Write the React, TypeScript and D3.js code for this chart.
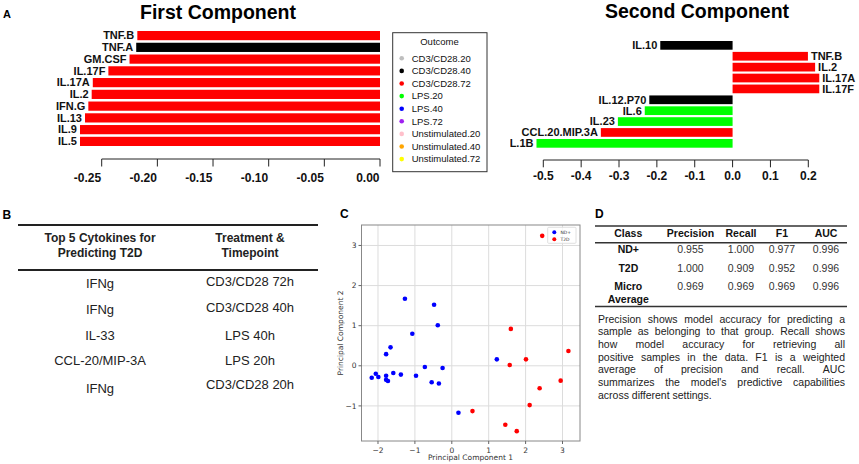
import React, { useMemo } from "react";
import * as d3 from "d3";

const FONT = "'Liberation Sans', Arial, Helvetica, sans-serif";
const MPL = "'DejaVu Sans', sans-serif";

// ---------- Panel A data ----------
const outcomes = ["CD3/CD28.20", "CD3/CD28.40", "CD3/CD28.72", "LPS.20", "LPS.40", "LPS.72", "Unstimulated.20", "Unstimulated.40", "Unstimulated.72"];
const outcomeColors = ["#bebebe", "#000000", "#ff0000", "#00ff00", "#0000ff", "#a020f0", "#ffc0cb", "#ffa500", "#ffff00"];

const comp1Names = ["TNF.B", "TNF.A", "GM.CSF", "IL.17F", "IL.17A", "IL.2", "IFN.G", "IL.13", "IL.9", "IL.5"];
const comp1Values = [-0.218, -0.219, -0.225, -0.244, -0.258, -0.259, -0.262, -0.265, -0.2695, -0.2695];
const comp1Outcome = ["CD3/CD28.72", "CD3/CD28.40", "CD3/CD28.72", "CD3/CD28.72", "CD3/CD28.72", "CD3/CD28.72", "CD3/CD28.72", "CD3/CD28.72", "CD3/CD28.72", "CD3/CD28.72"];
const comp1Ticks = [-0.25, -0.2, -0.15, -0.1, -0.05, 0];

const comp2Names = ["IL.10", "TNF.B", "IL.2", "IL.17A", "IL.17F", "IL.12.P70", "IL.6", "IL.23", "CCL.20.MIP.3A", "IL.1B"];
const comp2Values = [-0.191, 0.199, 0.218, 0.229, 0.229, -0.22, -0.232, -0.303, -0.348, -0.518];
const comp2Outcome = ["CD3/CD28.40", "CD3/CD28.72", "CD3/CD28.72", "CD3/CD28.72", "CD3/CD28.72", "CD3/CD28.40", "LPS.20", "LPS.20", "CD3/CD28.72", "LPS.20"];
const comp2Ticks = [-0.5, -0.4, -0.3, -0.2, -0.1, 0, 0.1, 0.2];

// ---------- Panel B data ----------
const tableBHeader1 = ["Top 5 Cytokines for", "Predicting T2D"];
const tableBHeader2 = ["Treatment &", "Timepoint"];
const tableBCytokines = ["IFNg", "IFNg", "IL-33", "CCL-20/MIP-3A", "IFNg"];
const tableBTreatments = ["CD3/CD28 72h", "CD3/CD28 40h", "LPS 40h", "LPS 20h", "CD3/CD28 20h"];

// ---------- Panel C data ----------
const ndX = [-1.27, -0.48, -0.38, -1.07, -1.66, -1.78, -0.73, -0.25, 1.22, -2.17, -2.06, -1.99, -1.78, -1.78, -1.73, -1.585, -1.38, -0.97, -0.545, -0.35, 0.18];
const ndY = [1.67, 1.52, 1.01, 0.80, 0.46, 0.29, -0.03, -0.055, 0.16, -0.30, -0.20, -0.28, -0.25, -0.35, -0.38, -0.18, -0.22, -0.25, -0.41, -0.44, -1.17];
const t2dX = [2.45, 1.60, 3.16, 2.01, 1.57, 2.95, 2.38, 2.11, 0.56, 1.45, 1.76];
const t2dY = [3.24, 0.92, 0.37, 0.16, 0.02, -0.37, -0.56, -0.98, -1.13, -1.47, -1.63];
const pcXTicks = [-2, -1, 0, 1, 2, 3];
const pcYTicks = [-1, 0, 1, 2, 3];

// ---------- Panel D data ----------
const metricHeaders = ["Class", "Precision", "Recall", "F1", "AUC"];
const metricClasses = [["ND+"], ["T2D"], ["Micro", "Average"]];
const precision = ["0.955", "1.000", "0.969"];
const recall = ["1.000", "0.909", "0.969"];
const f1 = ["0.977", "0.952", "0.969"];
const auc = ["0.996", "0.996", "0.996"];
const captionLines = [
  "Precision shows model accuracy for predicting a",
  "sample as belonging to that group. Recall shows",
  "how model accuracy for retrieving all",
  "positive samples in the data. F1 is a weighted",
  "average of precision and recall. AUC",
  "summarizes the model's predictive capabilities",
  "across different settings.",
];

let _canvas: HTMLCanvasElement | null = null;
function measure(text: string, font: string) {
  if (!_canvas) _canvas = document.createElement("canvas");
  const ctx = _canvas.getContext("2d")!;
  ctx.font = font;
  return ctx.measureText(text).width;
}

const colorOf = (o: string) => outcomeColors[outcomes.indexOf(o)];
const fmt2 = (v: number) => v.toFixed(2);
const fmt1 = (v: number) => v.toFixed(1);

export default function App() {
  // Component 1
  const x1 = d3.scaleLinear().domain([-0.25, 0]).range([101.7, 380]);
  const y1 = d3.scaleBand<string>().domain(comp1Names).range([31, 146]).paddingInner(0.217).paddingOuter(0);
  // Component 2
  const x2 = d3.scaleLinear().domain([-0.5, 0.2]).range([543.3, 808.3]);
  const y2 = d3.scaleBand<string>().domain(comp2Names).range([41, 147.7]).paddingInner(0.2).paddingOuter(0);
  // PCA
  const xs = d3.scaleLinear().domain([-2.447, 3.474]).range([361.5, 580]);
  const ys = d3.scaleLinear().domain([-1.875, 3.51]).range([441, 225]);

  const capFont = `10.5px ${FONT}`;
  const capLeft = 598;
  const capRight = 845;
  const capLayout = useMemo(() => {
    return captionLines.map((line, i) => {
      const words = line.split(" ");
      const widths = words.map((w) => measure(w, capFont));
      const isLast = i === captionLines.length - 1;
      const total = widths.reduce((a, b) => a + b, 0);
      const gap = isLast || words.length < 2 ? measure(" ", capFont) : (capRight - capLeft - total) / (words.length - 1);
      let x = capLeft;
      return words.map((w, k) => {
        const pos = x;
        x += widths[k] + gap;
        return { w, x: pos };
      });
    });
  }, []);

  const colX = [628.3, 690.5, 741, 782, 826];
  const rowYD = [253, 271.5, 289.8];

  return (
    <svg width={859} height={464} style={{ position: "absolute", left: 0, top: 0, background: "#fff" }} fontFamily={FONT}>
      <defs>
        <clipPath id="clip2">
          <rect x={510} y={0} width={349} height={200} />
        </clipPath>
      </defs>
      <rect x={0} y={0} width={859} height={464} fill="#fff" />

      {/* ---------- Panel A ---------- */}
      <text x={3} y={17.5} fontSize={11} fontWeight="bold">A</text>
      <text x={218} y={18.5} fontSize={19.5} fontWeight="bold" textAnchor="middle">First Component</text>
      {comp1Names.map((n, i) => {
        const v = comp1Values[i];
        const y = y1(n)!;
        return (
          <g key={n}>
            <rect x={x1(v)} y={y} width={x1(0) - x1(v)} height={y1.bandwidth()} fill={colorOf(comp1Outcome[i])} />
            <text x={x1(v) - 3} y={y + y1.bandwidth() / 2} dy="0.35em" textAnchor="end" fontSize={11} fontWeight="bold" fill="#111">{n}</text>
          </g>
        );
      })}
      <line x1={x1(-0.25)} x2={x1(0)} y1={159} y2={159} stroke="#222" strokeWidth={1} />
      {comp1Ticks.map((t) => (
        <g key={t}>
          <line x1={x1(t)} x2={x1(t)} y1={159} y2={166.5} stroke="#222" strokeWidth={1} />
          <text x={x1(t) - 0.5} y={182} textAnchor="end" fontSize={12} fontWeight="bold" fill="#111">{fmt2(t)}</text>
        </g>
      ))}

      {/* Legend */}
      <rect x={392.7} y={32.7} width={94.3} height={139} fill="#fff" stroke="#333" strokeWidth={1} />
      <text x={439.5} y={45} textAnchor="middle" fontSize={9.5} fill="#111">Outcome</text>
      {outcomes.map((o, i) => (
        <g key={o}>
          <circle cx={401.7} cy={58.3 + i * 12.6} r={2.3} fill={outcomeColors[i]} />
          <text x={411.7} y={58.3 + i * 12.6} dy="0.35em" fontSize={9.5} fill="#111">{o}</text>
        </g>
      ))}

      {/* Component 2 */}
      <text x={697} y={17.5} fontSize={19.5} fontWeight="bold" textAnchor="middle">Second Component</text>
      <g clipPath="url(#clip2)">
        {comp2Names.map((n, i) => {
          const v = comp2Values[i];
          const y = y2(n)!;
          const x0 = Math.min(x2(0), x2(v));
          const w = Math.abs(x2(v) - x2(0));
          return (
            <g key={n}>
              <rect x={x0} y={y} width={w} height={y2.bandwidth()} fill={colorOf(comp2Outcome[i])} />
              <text
                x={v < 0 ? x2(v) - 3 : x2(v) + 3}
                y={y + y2.bandwidth() / 2}
                dy="0.35em"
                textAnchor={v < 0 ? "end" : "start"}
                fontSize={11}
                fontWeight="bold"
                fill="#111"
              >
                {n}
              </text>
            </g>
          );
        })}
      </g>
      <line x1={x2(-0.5)} x2={x2(0.2)} y1={160} y2={160} stroke="#222" strokeWidth={1} />
      {comp2Ticks.map((t) => (
        <g key={t}>
          <line x1={x2(t)} x2={x2(t)} y1={160} y2={167.3} stroke="#222" strokeWidth={1} />
          <text x={x2(t)} y={180.3} textAnchor="middle" fontSize={12} fontWeight="bold" fill="#111">{fmt1(t)}</text>
        </g>
      ))}

      {/* ---------- Panel B ---------- */}
      <text x={2.5} y={218.5} fontSize={12} fontWeight="bold">B</text>
      <line x1={18} x2={318} y1={225} y2={225} stroke="#222" strokeWidth={1.8} />
      <line x1={18} x2={318} y1={270} y2={270} stroke="#222" strokeWidth={1.8} />
      {tableBHeader1.map((t, i) => (
        <text key={t} x={100} y={241.5 + i * 15.4} textAnchor="middle" fontSize={12} fontWeight="bold" fill="#222">{t}</text>
      ))}
      {tableBHeader2.map((t, i) => (
        <text key={t} x={250} y={241.5 + i * 15.4} textAnchor="middle" fontSize={12} fontWeight="bold" fill="#222">{t}</text>
      ))}
      {tableBCytokines.map((t, i) => (
        <text key={"c" + i} x={100} y={[287.5, 313.5, 340, 365, 392.5][i]} textAnchor="middle" fontSize={13} fill="#222">{t}</text>
      ))}
      {tableBTreatments.map((t, i) => (
        <text key={"t" + i} x={250} y={[286, 311.5, 340, 365, 388.5][i]} textAnchor="middle" fontSize={13} fill="#222">{t}</text>
      ))}

      {/* ---------- Panel C ---------- */}
      <text x={340} y={218.3} fontSize={12} fontWeight="bold">C</text>
      {pcXTicks.map((t) => (
        <line key={"gx" + t} x1={xs(t)} x2={xs(t)} y1={225} y2={441} stroke="#dcdcdc" strokeWidth={1} />
      ))}
      {pcYTicks.map((t) => (
        <line key={"gy" + t} x1={361.5} x2={580} y1={ys(t)} y2={ys(t)} stroke="#dcdcdc" strokeWidth={1} />
      ))}
      <rect x={361.5} y={225} width={218.5} height={216} fill="none" stroke="#888" strokeWidth={1} />
      {pcXTicks.map((t) => (
        <g key={"tx" + t}>
          <line x1={xs(t)} x2={xs(t)} y1={441} y2={444} stroke="#666" />
          <text x={xs(t)} y={452.5} textAnchor="middle" fontSize={7.5} fontFamily={MPL} fill="#333">{t < 0 ? "\u2212" + Math.abs(t) : String(t)}</text>
        </g>
      ))}
      {pcYTicks.map((t) => (
        <g key={"ty" + t}>
          <line x1={358.5} x2={361.5} y1={ys(t)} y2={ys(t)} stroke="#666" />
          <text x={356.5} y={ys(t)} dy="0.35em" textAnchor="end" fontSize={7.5} fontFamily={MPL} fill="#333">{t < 0 ? "\u2212" + Math.abs(t) : String(t)}</text>
        </g>
      ))}
      <text x={470.5} y={460.3} textAnchor="middle" fontSize={7.5} fontFamily={MPL} fill="#333">Principal Component 1</text>
      <text transform="translate(343,333) rotate(-90)" textAnchor="middle" fontSize={7.5} fontFamily={MPL} fill="#333">Principal Component 2</text>
      {ndX.map((x, i) => (
        <circle key={"nd" + i} cx={xs(x)} cy={ys(ndY[i])} r={2.3} fill="#0000ff" />
      ))}
      {t2dX.map((x, i) => (
        <circle key={"t2" + i} cx={xs(x)} cy={ys(t2dY[i])} r={2.3} fill="#ff0000" />
      ))}
      <rect x={547.7} y={227.3} width={28.3} height={16} fill="#fff" fillOpacity={0.8} stroke="#d8d8d8" strokeWidth={0.8} rx={1} />
      <circle cx={554.3} cy={232.3} r={2} fill="#0000ff" />
      <circle cx={554.3} cy={239.3} r={2} fill="#ff0000" />
      <text x={560.5} y={232.3} dy="0.35em" fontSize={4.5} fontFamily={MPL} fill="#333">ND+</text>
      <text x={560.5} y={239.3} dy="0.35em" fontSize={4.5} fontFamily={MPL} fill="#333">T2D</text>

      {/* ---------- Panel D ---------- */}
      <text x={595} y={218.3} fontSize={12} fontWeight="bold">D</text>
      <line x1={595} x2={847} y1={226} y2={226} stroke="#333" strokeWidth={1.5} />
      <line x1={595} x2={847} y1={242.7} y2={242.7} stroke="#333" strokeWidth={1.5} />
      <line x1={595} x2={847} y1={306.5} y2={306.5} stroke="#333" strokeWidth={1.5} />
      {metricHeaders.map((h, i) => (
        <text key={h} x={colX[i]} y={237.2} textAnchor="middle" fontSize={10.5} fontWeight="bold" fill="#111">{h}</text>
      ))}
      {metricClasses.map((c, r) => (
        <g key={"cls" + r}>
          {c.map((line, k) => (
            <text key={line} x={colX[0]} y={rowYD[r] + k * 12.7} textAnchor="middle" fontSize={10.5} fontWeight="bold" fill="#111">{line}</text>
          ))}
          {[precision, recall, f1, auc].map((arr, j) => (
            <text key={"v" + j} x={colX[j + 1]} y={rowYD[r]} textAnchor="middle" fontSize={10.5} fill="#333">{arr[r]}</text>
          ))}
        </g>
      ))}
      {capLayout.map((words, i) => (
        <text key={"cap" + i} y={322.8 + i * 12.67} fontSize={10.5} fill="#222">
          {words.map((w, k) => (
            <tspan key={k} x={w.x}>{w.w}</tspan>
          ))}
        </text>
      ))}
    </svg>
  );
}
